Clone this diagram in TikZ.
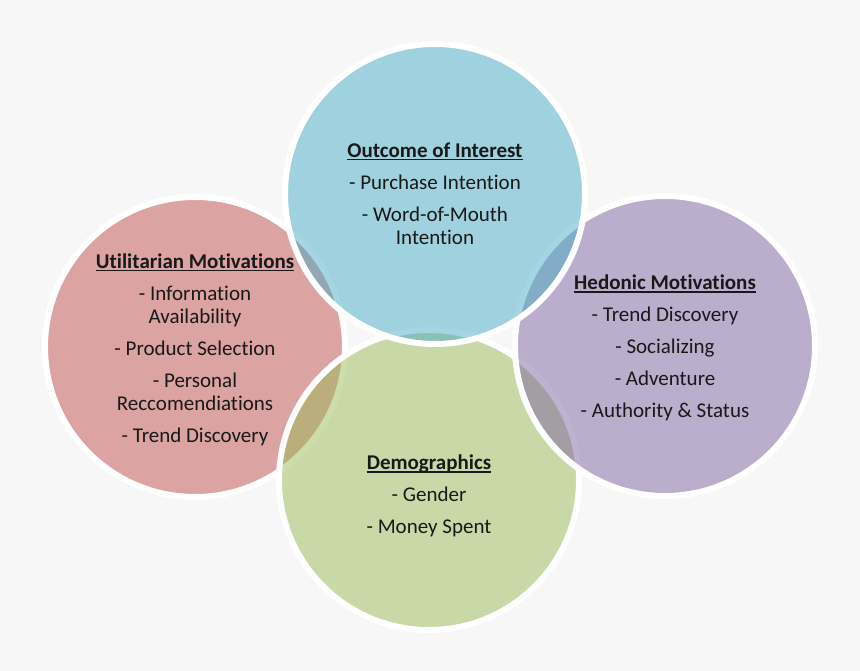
\documentclass[tikz,border=0pt]{standalone}
\usepackage{fontspec}
\setmainfont{Carlito}[Ligatures=NoCommon]
\usepackage{tikz}
\usetikzlibrary{positioning}
\definecolor{bgGray}{RGB}{247,247,247}
\definecolor{utilRed}{HTML}{C0504D}
\definecolor{outBlue}{HTML}{4BACC6}
\definecolor{demoGreen}{HTML}{9BBB59}
\definecolor{hedPurple}{HTML}{8064A2}
\newcommand\ulhead[1]{\setbox0\hbox{\textbf{#1}}\rlap{\rule[-3.2pt]{\wd0}{1.5pt}}\box0}

\begin{document}
\begin{tikzpicture}[x=1pt,y=-1pt,font=\fontsize{21}{23}\selectfont]
\tikzstyle{ring}=[circle,draw=white,line width=6pt,minimum size=300pt,inner sep=0pt,fill opacity=0.5]
\tikzstyle{list}=[align=center,text=black!90,inner sep=0pt]
\fill[bgGray] (0,0) rectangle (860,671);
% circles, blue one last so it lies on top
\node(util)[ring,fill=utilRed] at (195,347){};
\node(demo)[ring,fill=demoGreen] at (429,480){};
\node(hed)[ring,fill=hedPurple] at (665,346){};
\node(out)[ring,fill=outBlue] at (435,194){};
% texts
\node(outText)[list,yshift=0.5pt] at (out.center){\ulhead{Outcome of Interest}\\[9pt]- Purchase Intention\\[9pt]- Word-of-Mouth\\Intention};
\node(utilText)[list,yshift=-2.5pt] at (util.center){\ulhead{Utilitarian Motivations}\\[9pt]- Information\\Availability\\[9pt]- Product Selection\\[9pt]- Personal\\Reccomendiations\\[9pt]- Trend Discovery};
\node(hedText)[list,yshift=-2pt] at (hed.center){\ulhead{Hedonic Motivations}\\[9pt]- Trend Discovery\\[9pt]- Socializing\\[9pt]- Adventure\\[9pt]- Authority \& Status};
\node(demoText)[list,yshift=-16pt] at (demo.center){\ulhead{Demographics}\\[9pt]- Gender\\[9pt]- Money Spent};
\end{tikzpicture}
\end{document}
